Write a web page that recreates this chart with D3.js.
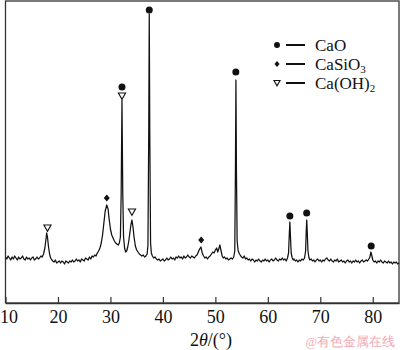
<!DOCTYPE html>
<html>
<head>
<meta charset="utf-8">
<script src="https://cdn.jsdelivr.net/npm/d3@7"></script>
<style>
  html, body { margin: 0; padding: 0; background: #fff; }
  #chart { width: 400px; height: 350px; }
  text { font-family: "Liberation Serif", "Times New Roman", serif; fill: #111; }
</style>
</head>
<body>
<div id="chart"></div>
<script>
// XRD scan: [2θ (°), intensity (a.u.)]
const scan = [
  [10.00,46],[10.25,44],[10.50,47],[10.75,45],[11.00,43],[11.25,46],[11.50,44],[11.75,47],
  [12.00,45],[12.25,43],[12.50,46],[12.75,44],[13.00,45],[13.25,47],[13.50,44],[13.75,43],
  [14.00,46],[14.25,44],[14.50,45],[14.75,43],[15.00,45],[15.25,46],[15.50,43],[15.75,44],
  [16.00,46],[16.25,44],[16.50,45],[16.75,47],[17.00,46],[17.25,49],[17.50,55],[17.70,63],
  [17.85,70],[18.00,66],[18.20,56],[18.40,49],[18.60,45],[18.85,43],[19.00,42],[19.25,41],
  [19.50,43],[19.75,40],[20.00,41],[20.25,42],[20.50,40],[20.75,42],[21.00,41],[21.25,39],
  [21.50,42],[21.75,41],[22.00,40],[22.25,42],[22.50,41],[22.75,43],[23.00,41],[23.25,42],
  [23.50,44],[23.75,42],[24.00,43],[24.25,41],[24.50,44],[24.75,43],[25.00,42],[25.25,45],
  [25.50,44],[25.75,43],[26.00,46],[26.25,44],[26.50,47],[26.75,46],[27.00,48],[27.25,47],
  [27.50,50],[27.75,52],[28.00,55],[28.25,60],[28.50,68],[28.75,80],[29.00,92],[29.30,98],
  [29.55,94],[29.75,84],[30.00,74],[30.25,68],[30.50,65],[30.75,62],[31.00,60],[31.25,59],
  [31.50,58],[31.70,60],[31.90,66],[32.05,110],[32.20,203],[32.35,110],[32.50,66],[32.70,55],
  [32.90,51],[33.10,52],[33.30,56],[33.50,62],[33.70,70],[33.90,78],[34.10,83],[34.30,76],
  [34.50,66],[34.75,57],[35.00,53],[35.25,51],[35.50,49],[35.75,48],[36.00,47],[36.25,48],
  [36.50,46],[36.75,47],[37.00,49],[37.15,58],[37.30,170],[37.40,289],[37.50,170],[37.65,60],
  [37.80,50],[38.00,47],[38.25,45],[38.50,46],[38.75,44],[39.00,43],[39.25,44],[39.50,42],
  [39.75,43],[40.00,44],[40.25,42],[40.50,43],[40.75,45],[41.00,43],[41.25,44],[41.50,46],
  [41.75,44],[42.00,45],[42.25,43],[42.50,46],[42.75,45],[43.00,47],[43.25,45],[43.50,46],
  [43.75,44],[44.00,47],[44.25,45],[44.50,46],[44.75,48],[45.00,46],[45.25,45],[45.50,47],
  [45.75,46],[46.00,45],[46.25,47],[46.50,48],[46.75,51],[47.00,54],[47.25,56],[47.50,50],
  [47.75,47],[48.00,45],[48.25,46],[48.50,44],[48.75,46],[49.00,47],[49.25,49],[49.50,51],
  [49.75,50],[50.00,53],[50.25,55],[50.45,51],[50.65,54],[50.85,58],[51.05,53],[51.30,47],
  [51.50,45],[51.75,46],[52.00,44],[52.25,45],[52.50,43],[52.75,44],[53.00,45],[53.25,44],
  [53.50,46],[53.70,52],[53.82,130],[53.92,223],[54.02,130],[54.15,62],[54.35,52],[54.60,49],
  [54.85,47],[55.00,46],[55.25,45],[55.50,47],[55.75,44],[56.00,45],[56.25,43],[56.50,44],
  [56.75,42],[57.00,44],[57.25,43],[57.50,41],[57.75,43],[58.00,42],[58.25,44],[58.50,42],
  [58.75,41],[59.00,43],[59.25,42],[59.50,44],[59.75,42],[60.00,43],[60.25,41],[60.50,43],
  [60.75,44],[61.00,42],[61.25,43],[61.50,45],[61.75,43],[62.00,42],[62.25,44],[62.50,43],
  [62.75,45],[63.00,43],[63.25,44],[63.50,42],[63.75,45],[63.95,50],[64.10,70],[64.20,81],
  [64.30,68],[64.45,50],[64.65,45],[64.85,43],[65.00,44],[65.25,42],[65.50,43],[65.75,41],
  [66.00,43],[66.25,42],[66.50,44],[66.75,43],[67.00,45],[67.20,52],[67.32,72],[67.42,83],
  [67.52,70],[67.65,52],[67.85,45],[68.00,43],[68.25,44],[68.50,42],[68.75,43],[69.00,41],
  [69.25,43],[69.50,44],[69.75,42],[70.00,43],[70.25,41],[70.50,43],[70.75,42],[71.00,44],
  [71.25,45],[71.50,43],[71.75,42],[72.00,44],[72.25,42],[72.50,41],[72.75,43],[73.00,42],
  [73.25,44],[73.50,41],[73.75,42],[74.00,43],[74.25,41],[74.50,42],[74.75,40],[75.00,42],
  [75.25,43],[75.50,41],[75.75,42],[76.00,40],[76.25,42],[76.50,41],[76.75,43],[77.00,41],
  [77.25,42],[77.50,40],[77.75,42],[78.00,43],[78.25,41],[78.50,42],[78.75,43],[79.00,42],
  [79.25,44],[79.45,46],[79.65,51],[79.80,48],[80.00,43],[80.25,41],[80.50,42],[80.75,40],
  [81.00,42],[81.25,41],[81.50,43],[81.75,41],[82.00,40],[82.25,42],[82.50,41],[82.75,40],
  [83.00,42],[83.25,40],[83.50,41],[83.75,39],[84.00,41],[84.25,40],[84.50,41],[84.75,39],
  [85.00,40]
];

// phase markers: [2θ, intensity where the symbol sits]
const caoPeaks = [[32.2,216],[37.4,293],[53.9,231],[64.2,87],[67.4,90],[79.7,57]];
const casio3Peaks = [[29.3,105],[47.3,63]];
const caoh2Peaks = [[18.0,75],[32.2,207],[34.1,91]];

const phases = [
  { name: "CaO", sub: "", symbol: "circle" },
  { name: "CaSiO", sub: "3", symbol: "diamond" },
  { name: "Ca(OH)", sub: "2", symbol: "triangle" }
];

const xTicks = [10, 20, 30, 40, 50, 60, 70, 80];

const W = 400, H = 350;
const plot = { left: 5.5, right: 399, top: 1, bottom: 303 };

const svg = d3.select("#chart").append("svg")
  .attr("width", W).attr("height", H);

const x = d3.scaleLinear().domain([10, 85]).range([plot.left, plot.right]);
const y = d3.scaleLinear().domain([0, 302]).range([plot.bottom, plot.top]);

// frame
svg.append("rect")
  .attr("x", plot.left).attr("y", plot.top)
  .attr("width", plot.right - plot.left).attr("height", plot.bottom - plot.top)
  .attr("fill", "none").attr("stroke", "#333").attr("stroke-width", 1.3);

// bottom axis, ticks pointing inside
const xAxis = d3.axisBottom(x).tickValues(xTicks).tickSizeInner(-6).tickSizeOuter(0).tickPadding(7);
const gx = svg.append("g").attr("transform", `translate(0,${plot.bottom})`).call(xAxis);
gx.select(".domain").attr("stroke", "#333").attr("stroke-width", 1.3);
gx.selectAll(".tick line").attr("stroke", "#333").attr("stroke-width", 1.2);
gx.selectAll(".tick text")
  .attr("font-family", "Liberation Serif, serif")
  .attr("font-size", 18).attr("fill", "#111")
  .attr("dx", d => d === 10 ? 3 : 0);   // first label sits against the left edge

// axis title 2θ/(°)
const title = svg.append("text")
  .attr("x", 211).attr("y", 346)
  .attr("text-anchor", "middle").attr("font-size", 18);
title.append("tspan").text("2");
title.append("tspan").attr("font-style", "italic").text("θ");
title.append("tspan").text("/(°)");

// pattern line
const line = d3.line().x(d => x(d[0])).y(d => y(d[1]));
svg.append("path")
  .datum(scan)
  .attr("d", line)
  .attr("fill", "none")
  .attr("stroke", "#111")
  .attr("stroke-width", 1.25)
  .attr("stroke-linejoin", "round");

// symbols
function drawSymbol(g, type, cx, cy, s) {
  s = s || 1;
  if (type === "circle") {
    g.append("circle").attr("cx", cx).attr("cy", cy).attr("r", 3.5 * s).attr("fill", "#111");
  } else if (type === "diamond") {
    g.append("path")
      .attr("d", `M${cx},${cy - 3.5 * s}L${cx + 3 * s},${cy}L${cx},${cy + 3.5 * s}L${cx - 3 * s},${cy}Z`)
      .attr("fill", "#111");
  } else {
    g.append("path")
      .attr("d", `M${cx - 3.6 * s},${cy - 3 * s}L${cx + 3.6 * s},${cy - 3 * s}L${cx},${cy + 3.3 * s}Z`)
      .attr("fill", "#fff").attr("stroke", "#111").attr("stroke-width", 1.1);
  }
}

const marks = svg.append("g");
caoPeaks.forEach(p => drawSymbol(marks, "circle", x(p[0]), y(p[1])));
casio3Peaks.forEach(p => drawSymbol(marks, "diamond", x(p[0]), y(p[1])));
caoh2Peaks.forEach(p => drawSymbol(marks, "triangle", x(p[0]), y(p[1])));

// legend
const legend = svg.append("g");
phases.forEach((ph, i) => {
  const ry = 45 + i * 19;
  drawSymbol(legend, ph.symbol, 277, ry, 0.85);
  legend.append("line")
    .attr("x1", 286).attr("x2", 305).attr("y1", ry).attr("y2", ry)
    .attr("stroke", "#111").attr("stroke-width", 2);
  const t = legend.append("text").attr("x", 315).attr("y", ry + 6).attr("font-size", 17);
  t.append("tspan").text(ph.name);
  if (ph.sub) t.append("tspan").attr("font-size", 11).attr("dy", 3).text(ph.sub);
});

// watermark
svg.append("text")
  .attr("x", 395).attr("y", 346)
  .attr("text-anchor", "end")
  .attr("font-family", "Noto Sans CJK SC, sans-serif")
  .attr("font-size", 12.5)
  .style("fill", "#f2a9b4")
  .text("@有色金属在线");
</script>
</body>
</html>
